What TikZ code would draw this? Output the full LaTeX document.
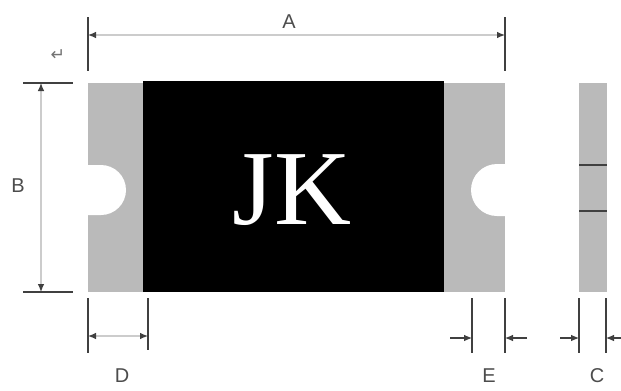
\documentclass[tikz,border=0pt]{standalone}
\usepackage{fontspec}
\setmainfont{Liberation Sans}
\newfontfamily\serifjk{Liberation Serif}
\newfontfamily\symbolfont{DejaVu Sans}
\usetikzlibrary{arrows.meta}
\definecolor{pad}{gray}{0.73}
\definecolor{dimline}{gray}{0.25}
\definecolor{dimshaft}{gray}{0.8}
\tikzset{
  tick/.style={draw=dimline, line width=1.1pt},
  dimarrow/.style={draw=dimshaft, line width=0.9pt, {Latex[length=6pt,width=5pt,color=dimline]}-{Latex[length=6pt,width=5pt,color=dimline]}},
  outarrow/.style={draw=dimline, line width=0.8pt, -{Latex[length=6pt,width=5pt]}},
  dimlabel/.style={font=\fontsize{15}{15}\selectfont, text=black!70, inner sep=0pt}
}

\begin{document}
\begin{tikzpicture}[x=0.75pt, y=-0.75pt]
\useasboundingbox (0, 0) rectangle (621, 390);
% pads with notches
\fill [pad] (88, 83) rectangle (143, 292);
\fill [pad] (444, 83) rectangle (505, 292);
\fill [white] (87, 165) -- (101, 165) arc (-90:90:25) -- (87, 215) -- cycle;
\fill [white] (506, 164) -- (497, 164) arc (-90:-270:26) -- (506, 216) -- cycle;
\fill [black] (143, 81) rectangle (444, 292);
\node [text=white, inner sep=0pt, font=\fontsize{80}{80}\selectfont\serifjk] (mark) at (292, 190) {JK};
% side view
\fill [pad] (579, 83) rectangle (607, 292);
\draw [dimline, line width=1.1pt] (579, 165) -- (607, 165);
\draw [dimline, line width=1.1pt] (579, 211) -- (607, 211);
% A
\coordinate (a1) at (88, 35);
\coordinate (a2) at (505, 35);
\draw [tick] (88, 17) -- (88, 71);
\draw [tick] (505, 17) -- (505, 71);
\draw [dimarrow] (a1) -- (a2);
\node [dimlabel] (labelA) at (289, 22) {A};
% B
\coordinate (b1) at (41, 83);
\coordinate (b2) at (41, 292);
\draw [tick] (23, 83) -- (73, 83);
\draw [tick] (23, 292) -- (73, 292);
\draw [dimarrow] (b1) -- (b2);
\node [dimlabel] (labelB) at (18, 186) {B};
% D
\coordinate (d1) at (88, 336);
\coordinate (d2) at (148, 336);
\draw [tick] (88, 298) -- (88, 353);
\draw [tick] (148, 298) -- (148, 350);
\draw [dimarrow] (d1) -- (d2);
\node [dimlabel] (labelD) at (122, 376) {D};
% E
\coordinate (e1) at (472, 338);
\coordinate (e2) at (505, 338);
\coordinate (e3) at (450, 338);
\coordinate (e4) at (527, 338);
\draw [tick] (472, 298) -- (472, 353);
\draw [tick] (505, 298) -- (505, 353);
\draw [outarrow] (e3) -- (e1);
\draw [outarrow] (e4) -- (e2);
\node [dimlabel] (labelE) at (489, 376) {E};
% C
\coordinate (c1) at (579, 338);
\coordinate (c2) at (606, 338);
\coordinate (c3) at (560, 338);
\coordinate (c4) at (621, 338);
\draw [tick] (579, 298) -- (579, 353);
\draw [tick] (606, 298) -- (606, 353);
\draw [outarrow] (c3) -- (c1);
\draw [outarrow] (c4) -- (c2);
\node [dimlabel] (labelC) at (597, 376) {C};
% return mark
\node [text=black!55, inner sep=0pt, font=\fontsize{13}{13}\selectfont\symbolfont] (retmark) at (58, 55) {↵};
\end{tikzpicture}
\end{document}
